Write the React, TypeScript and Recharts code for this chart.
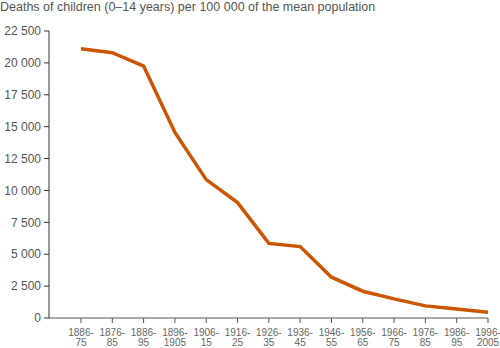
import { LineChart, Line, XAxis, YAxis } from "recharts"

const periods = [
  "1886-75", "1876-85", "1886-95", "1896-1905", "1906-15", "1916-25", "1926-35",
  "1936-45", "1946-55", "1956-65", "1966-75", "1976-85", "1986-95", "1996-2005",
]
const deaths = [21100, 20800, 19750, 14550, 10850, 9050, 5850, 5600, 3200, 2100, 1500, 950, 700, 450]
const yTicks = [0, 2500, 5000, 7500, 10000, 12500, 15000, 17500, 20000, 22500]

const data = periods.map((period, i) => ({ period, deaths: deaths[i] }))

const font = "'Liberation Sans', Arial, sans-serif"

const fmt = (v: number) => (v >= 1000 ? `${Math.floor(v / 1000)} ${String(v % 1000).padStart(3, "0")}` : `${v}`)

function PeriodTick(props: any) {
  const { x, y, payload } = props
  const [a, b] = String(payload.value).split("-")
  return (
    <text x={x} y={y} textAnchor="middle" fill="#666" fontSize={10} fontFamily={font}>
      <tspan x={x} dy={11}>{a}-</tspan>
      <tspan x={x} dy={10}>{b}</tspan>
    </text>
  )
}

export default function App() {
  return (
    <div style={{ position: "absolute", left: 0, top: 0, width: 500, height: 348, background: "#fff" }}>
      <div style={{ position: "absolute", left: 0, top: 0, fontFamily: font, fontSize: 12.5, color: "#555" }}>
        Deaths of children (0–14 years) per 100 000 of the mean population
      </div>
      <LineChart width={500} height={348} data={data} margin={{ top: 31, right: 12, bottom: 0, left: 0 }}>
        <XAxis
          dataKey="period"
          height={30}
          padding={{ left: 32, right: 0 }}
          interval={0}
          stroke="#555"
          tickSize={5}
          tick={<PeriodTick />}
        />
        <YAxis
          width={49}
          domain={[0, 22500]}
          ticks={yTicks}
          interval={0}
          tickFormatter={fmt}
          stroke="#333"
          tickSize={5}
          tickMargin={3}
          tick={{ fill: "#555", fontSize: 12, fontFamily: font }}
        />
        <Line
          type="linear"
          dataKey="deaths"
          stroke="#cc5500"
          strokeWidth={3.5}
          dot={false}
          isAnimationActive={false}
        />
      </LineChart>
    </div>
  )
}
